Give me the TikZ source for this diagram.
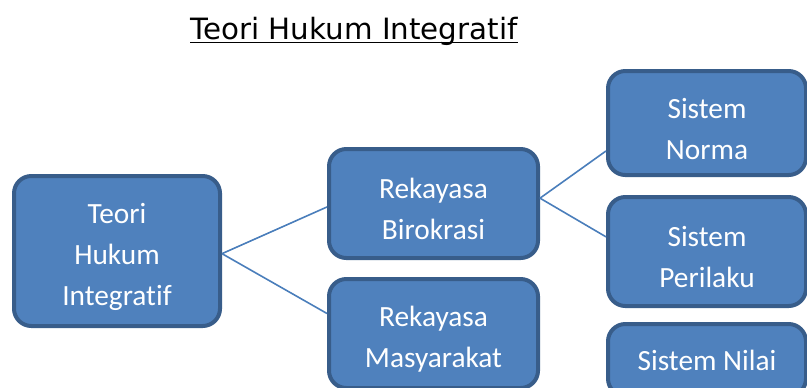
\documentclass[tikz,border=0pt]{standalone}
\usepackage{fontspec}
\setmainfont{Carlito}[Ligatures=CommonOff]
\newfontfamily\judulfont{DejaVu Sans}
\definecolor{isi}{HTML}{4F81BD}
\definecolor{tepi}{HTML}{385D8A}
\definecolor{garis}{HTML}{4A7EBB}
\newcommand\turun{\rule{0pt}{24pt}}
\begin{document}
\begin{tikzpicture}[x=0.75pt,y=-0.75pt,
  kotak/.style={draw=tepi,fill=isi,line width=3pt,rounded corners=13pt,
    text=white,align=center,inner sep=0pt,
    font=\fontsize{22}{30.75}\selectfont},
  hubung/.style={garis,line width=1.2pt}]
  \useasboundingbox (0,0) rectangle (807,387);
  % judul
  \node [inner sep=0pt,font=\judulfont\fontsize{22}{26}\selectfont] (judul) at (354,31) {Teori Hukum Integratif};
  \draw [line width=1.4pt] ([yshift=-2.6pt]judul.base west) -- ([yshift=-2.6pt]judul.base east);
  % kotak
  \node [kotak,minimum width=154.5pt,minimum height=112.5pt] (teori) at (117,251) {\turun Teori\\Hukum\\Integratif};
  \node [kotak,minimum width=156.75pt,minimum height=81.75pt] (birokrasi) at (433.5,203.5) {\turun Rekayasa\\Birokrasi};
  \node [kotak,minimum width=156.75pt,minimum height=81.75pt] (masyarakat) at (433.5,333.5) {\turun Rekayasa\\Masyarakat};
  \node [kotak,minimum width=148.5pt,minimum height=78pt] (norma) at (707,123) {\turun Sistem\\Norma};
  \node [kotak,minimum width=148.5pt,minimum height=81.75pt] (perilaku) at (707,251.5) {\turun Sistem\\Perilaku};
  \node [kotak,minimum width=148.5pt,minimum height=54pt] (nilai) at (707,360) {Sistem Nilai};
  % garis penghubung
  \draw [hubung] ([yshift=-2pt]teori.east) -- ([yshift=-2.6pt]birokrasi.west);
  \draw [hubung] ([yshift=-2pt]teori.east) -- ([yshift=15pt]masyarakat.west);
  \draw [hubung] ([yshift=4pt]birokrasi.east) -- ([yshift=-21pt]norma.west);
  \draw [hubung] ([yshift=4pt]birokrasi.east) -- ([yshift=11pt]perilaku.west);
\end{tikzpicture}
\end{document}
